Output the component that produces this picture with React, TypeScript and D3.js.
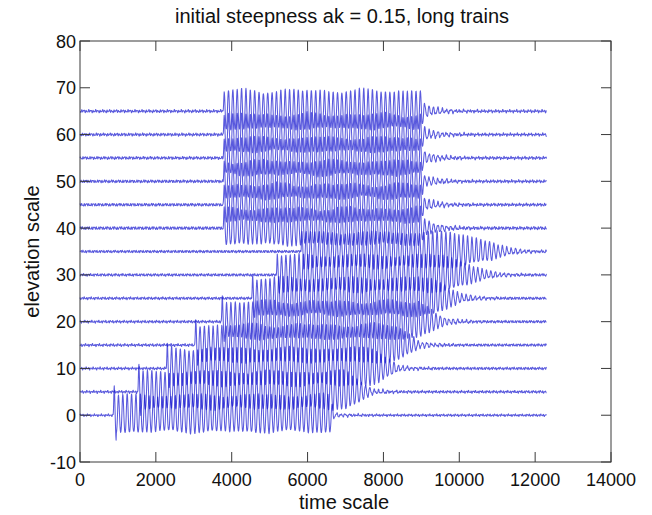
import React, { useMemo } from "react";
import * as d3 from "d3";

// Wave gauge records: each trace is drawn at its gauge elevation offset.
const gaugeLevels = [0, 5, 10, 15, 20, 25, 30, 35, 40, 45, 50, 55, 60, 65];
// time at which the wave train reaches each gauge
const trainOnset = [900, 1550, 2300, 3050, 3750, 4550, 5200, 5850, 3800, 3800, 3800, 3800, 3800, 3800];
// time until which the train keeps its full height
const fullUntil = [6600, 7050, 7700, 8300, 8900, 9300, 9600, 9800, 8990, 8990, 8990, 8990, 8990, 8990];
// time at which the train has faded down to its tail level
const fadeOut = [6700, 7700, 8400, 8950, 9600, 10000, 10500, 10900, 9090, 9090, 9090, 9090, 9090, 9090];
// wave amplitude inside the train
const waveAmp = [3.9, 3.9, 3.9, 3.9, 3.9, 3.9, 3.8, 3.7, 3.8, 3.9, 3.9, 3.9, 3.9, 4.0];
// amplitude of the first crest relative to the train
const leadCrest = [1.5, 1.35, 1.15, 1.3, 1.35, 1.2, 1.1, 1.05, 1.0, 1.0, 1.0, 1.0, 1.0, 1.0];
// amplitude of the ringing tail left behind the train
const tailAmp = [0.45, 0.55, 0.6, 0.7, 0.8, 1.0, 1.4, 1.8, 1.6, 1.2, 1.1, 1.2, 1.2, 1.3];
// background ripple level on each record
const rippleAmp = [0.22, 0.25, 0.25, 0.25, 0.25, 0.25, 0.25, 0.25, 0.3, 0.28, 0.28, 0.28, 0.28, 0.28];

const recordEnd = 12300;
const wavePeriod = 115;
const sampleStep = 7;
const tailDecay = 450;

const xTicks = [0, 2000, 4000, 6000, 8000, 10000, 12000, 14000];
const yTicks = [-10, 0, 10, 20, 30, 40, 50, 60, 70, 80];

const W = 652;
const H = 515;
const M = { left: 80, right: 611, top: 41, bottom: 462 };

function gaugeRecord(i: number): [number, number][] {
  const onset = trainOnset[i];
  const a = waveAmp[i];
  const pts: [number, number][] = [];
  const ph1 = i * 1.7;
  const ph2 = i * 2.9;
  for (let t = 0; t <= recordEnd; t += sampleStep) {
    const ripple =
      rippleAmp[i] *
      (0.65 * Math.sin((2 * Math.PI * t) / 61 + ph1) +
        0.45 * Math.sin((2 * Math.PI * t) / 37 + ph2) +
        0.3 * Math.sin((2 * Math.PI * t) / 173 + ph1 * 0.5));
    let env = 0;
    if (t >= onset - wavePeriod * 0.25) {
      const rise = Math.min(1, (t - (onset - wavePeriod * 0.25)) / (wavePeriod * 0.25));
      if (t <= fullUntil[i]) {
        const mod = 1 + 0.07 * Math.sin((2 * Math.PI * (t - onset)) / 1700 + i);
        env = a * rise * mod;
        if (t < onset + wavePeriod * 0.5) env *= leadCrest[i];
      } else if (t <= fadeOut[i]) {
        const f = (t - fullUntil[i]) / (fadeOut[i] - fullUntil[i]);
        env = a * (1 - f) + tailAmp[i] * f;
      } else {
        env = tailAmp[i] * Math.exp(-(t - fadeOut[i]) / tailDecay);
      }
    }
    const th = (2 * Math.PI * (t - onset)) / wavePeriod;
    const wave = env * (Math.cos(th) + 0.1 * Math.cos(2 * th));
    pts.push([t, gaugeLevels[i] + wave + ripple]);
  }
  return pts;
}

export default function App() {
  const x = d3.scaleLinear().domain([0, 14000]).range([M.left, M.right]);
  const y = d3.scaleLinear().domain([-10, 80]).range([M.bottom, M.top]);
  const line = d3
    .line<[number, number]>()
    .x((d) => x(d[0]))
    .y((d) => y(d[1]));

  const paths = useMemo(() => gaugeLevels.map((_, i) => line(gaugeRecord(i)) || ""), []);

  const tickLen = 10;
  const axisColor = "#3a3a3a";
  const font = "'Liberation Sans', Arial, Helvetica, sans-serif";

  return (
    <svg width={W} height={H} style={{ display: "block", position: "absolute", left: 0, top: 0 }}>
      <rect x={0} y={0} width={W} height={H} fill="#fff" />
      <g>
        {paths.map((d, i) => (
          <path
            key={i}
            d={d}
            fill="none"
            stroke="#1a1ad0"
            strokeOpacity={0.72}
            strokeWidth={1.05}
            strokeLinejoin="round"
          />
        ))}
      </g>
      <rect
        x={M.left}
        y={M.top}
        width={M.right - M.left}
        height={M.bottom - M.top}
        fill="none"
        stroke={axisColor}
        strokeWidth={1}
      />
      {xTicks.map((t) => (
        <g key={"x" + t}>
          <line x1={x(t)} x2={x(t)} y1={M.bottom} y2={M.bottom - tickLen} stroke={axisColor} />
          <line x1={x(t)} x2={x(t)} y1={M.top} y2={M.top + tickLen} stroke={axisColor} />
          <text x={x(t)} y={486} textAnchor="middle" fontSize={18} fontFamily={font} fill="#111">
            {t}
          </text>
        </g>
      ))}
      {yTicks.map((t) => (
        <g key={"y" + t}>
          <line x1={M.left} x2={M.left + tickLen} y1={y(t)} y2={y(t)} stroke={axisColor} />
          <line x1={M.right} x2={M.right - tickLen} y1={y(t)} y2={y(t)} stroke={axisColor} />
          <text x={76} y={y(t) + 6.5} textAnchor="end" fontSize={18} fontFamily={font} fill="#111">
            {t}
          </text>
        </g>
      ))}
      <text x={342} y={23} textAnchor="middle" fontSize={20} fontFamily={font} fill="#111">
        initial steepness ak = 0.15, long trains
      </text>
      <text x={344} y={509} textAnchor="middle" fontSize={20} fontFamily={font} fill="#111">
        time scale
      </text>
      <text
        transform={`translate(39,${(M.top + M.bottom) / 2}) rotate(-90)`}
        textAnchor="middle"
        fontSize={20}
        fontFamily={font}
        fill="#111"
      >
        elevation scale
      </text>
    </svg>
  );
}
